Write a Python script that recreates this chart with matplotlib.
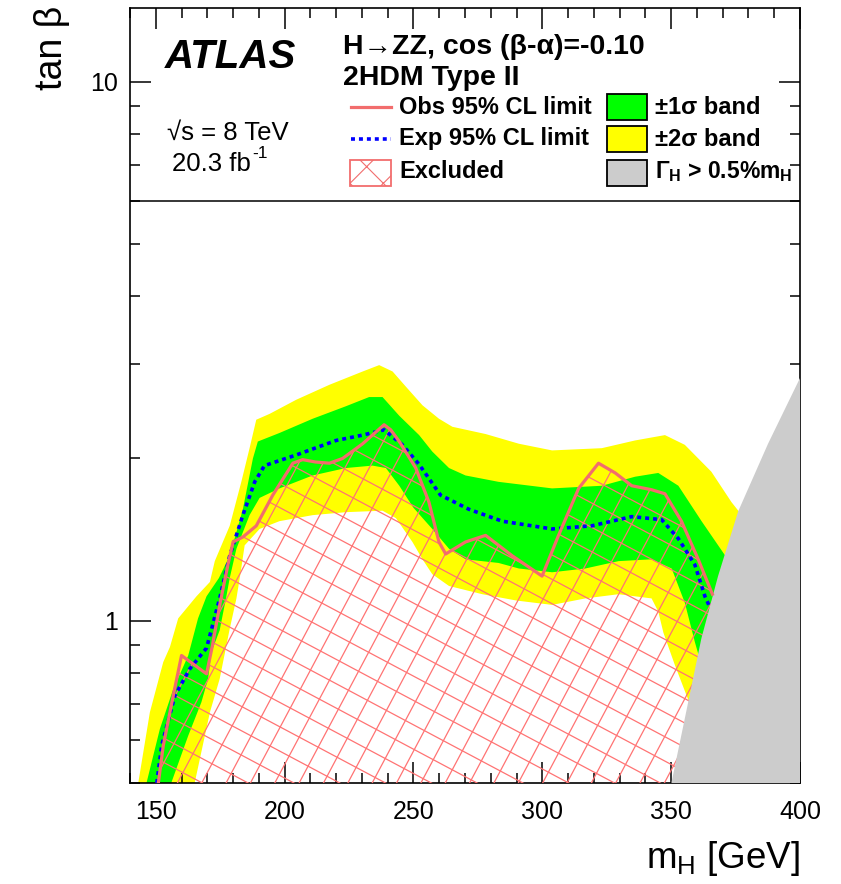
import numpy as np
import matplotlib
matplotlib.use('Agg')
import matplotlib.pyplot as plt
from matplotlib.patches import Polygon, Rectangle
from matplotlib.collections import LineCollection
from matplotlib.lines import Line2D

plt.rcParams['font.family'] = ['Liberation Sans', 'DejaVu Sans']
plt.rcParams['mathtext.fontset'] = 'custom'
plt.rcParams['mathtext.rm'] = 'Liberation Sans'
plt.rcParams['mathtext.it'] = 'Liberation Sans:italic'
plt.rcParams['mathtext.bf'] = 'Liberation Sans:bold'
plt.rcParams['hatch.linewidth'] = 0.8

# ---------------- data (m_H [GeV], tan beta) ----------------
# observed 95% CL limit
obs_m = [151.0, 152.9, 156.8, 160.0, 169.7, 172.0, 175.0, 178.0, 180.0, 183.8, 189.0,
         195.4, 203.2, 207.0, 212.0, 217.4, 222.5, 230.3, 238.6, 241.2, 244.5, 250.9,
         256.0, 259.9, 262.5, 270.2, 278.0, 288.3, 299.9, 306.3, 314.1, 321.8, 328.3,
         334.7, 342.4, 347.6, 354.0, 360.5, 366.0]
obs_t = [0.50, 0.586, 0.727, 0.862, 0.797, 0.90, 1.08, 1.27, 1.40, 1.43, 1.50,
         1.71, 1.96, 1.99, 1.97, 1.96, 2.00, 2.13, 2.31, 2.26, 2.15, 1.92,
         1.66, 1.40, 1.33, 1.40, 1.44, 1.32, 1.21, 1.44, 1.76, 1.96, 1.88,
         1.78, 1.75, 1.72, 1.53, 1.30, 1.12]

# expected 95% CL limit
exp_m = [150.4, 152.3, 157.4, 163.2, 169.7, 174.8, 178.7, 183.8, 188.4, 192.2, 204.5,
         220.0, 230.3, 238.6, 245.7, 252.2, 260.5, 271.5, 284.4, 303.8, 319.2, 334.7,
         346.3, 352.8, 359.2, 363.1, 365.0]
exp_t = [0.50, 0.587, 0.726, 0.814, 0.89, 1.10, 1.32, 1.57, 1.81, 1.94, 2.03,
         2.16, 2.21, 2.26, 2.12, 1.95, 1.71, 1.61, 1.53, 1.48, 1.50, 1.56,
         1.54, 1.42, 1.27, 1.11, 1.06]

# +2 sigma edge
p2_m = [143.2, 147.7, 152.9, 155.5, 158.7, 165.8, 171.0, 172.9, 178.7, 183.2, 186.4,
        189.0, 194.2, 204.5, 217.4, 230.3, 236.7, 241.9, 247.0, 253.5, 259.9, 265.1,
        278.0, 290.9, 303.8, 323.1, 336.0, 347.6, 355.3, 365.6, 373.4, 376.5, 400.0, 400.0]
p2_t = [0.50, 0.676, 0.838, 0.894, 1.01, 1.11, 1.18, 1.29, 1.50, 1.81, 2.09,
        2.36, 2.42, 2.57, 2.74, 2.90, 2.98, 2.90, 2.72, 2.51, 2.37, 2.29,
        2.22, 2.13, 2.07, 2.09, 2.16, 2.21, 2.12, 1.89, 1.66, 1.59, 1.59, 0.55]
# -2 sigma edge
m2_m = [165.1, 171.0, 174.8, 178.7, 181.3, 182.6, 184.5, 190.3, 198.0, 210.9, 223.8,
        238.0, 243.2, 249.6, 253.5, 257.3, 263.8, 276.7, 290.0, 303.8, 316.7, 329.6,
        342.4, 345.0, 347.0, 351.5, 356.5, 360.0]
m2_t = [0.50, 0.676, 0.78, 0.966, 1.10, 1.20, 1.38, 1.48, 1.53, 1.57, 1.59,
        1.60, 1.55, 1.40, 1.30, 1.22, 1.16, 1.12, 1.09, 1.07, 1.10, 1.12,
        1.10, 1.04, 0.95, 0.826, 0.716, 0.66]
# +1 sigma edge
p1_m = [146.4, 151.6, 156.8, 162.6, 166.4, 169.7, 174.5, 178.7, 183.8, 187.7, 189.6,
        198.0, 210.9, 223.8, 232.8, 238.0, 244.5, 252.2, 257.3, 263.8, 270.2, 283.0,
        303.8, 323.1, 336.0, 345.0, 352.8, 361.8, 371.0, 400.0, 400.0]
p1_t = [0.50, 0.63, 0.747, 0.862, 1.01, 1.11, 1.20, 1.32, 1.61, 2.00, 2.15,
        2.23, 2.37, 2.50, 2.60, 2.60, 2.40, 2.21, 2.06, 1.92, 1.86, 1.81,
        1.76, 1.78, 1.85, 1.88, 1.78, 1.53, 1.32, 1.32, 0.60]
# -1 sigma edge
m1_m = [156.0, 162.6, 167.7, 170.3, 171.6, 174.8, 177.4, 178.7, 181.3, 186.4, 190.3,
        198.0, 210.9, 223.8, 234.1, 239.3, 244.5, 250.0, 257.3, 263.8, 270.2, 283.0,
        290.9, 303.8, 316.7, 329.6, 342.4, 350.2, 355.3, 359.2, 362.0]
m1_t = [0.50, 0.612, 0.706, 0.78, 0.875, 0.96, 1.11, 1.20, 1.36, 1.57, 1.69,
        1.76, 1.86, 1.92, 1.94, 1.92, 1.78, 1.62, 1.48, 1.36, 1.30, 1.28,
        1.25, 1.23, 1.25, 1.29, 1.30, 1.25, 1.08, 0.913, 0.82]
# Gamma_H > 0.5% m_H boundary
gray_m = [350.1, 355.9, 361.7, 368.2, 376.0, 387.6, 400.0]
gray_t = [0.50, 0.68, 0.926, 1.21, 1.595, 2.13, 2.82]

x_ticks = [150, 200, 250, 300, 350, 400]
y_ticks = [1, 10]
y_ticklabels = ['1', '10']

# ---------------- figure ----------------
FW, FH = 841, 884
fig = plt.figure(figsize=(FW / 100, FH / 100), dpi=100)
L, B, R, T = 130 / FW, 1 - 783 / FH, 800 / FW, 1 - 8 / FH
ax = fig.add_axes([L, B, R - L, T - B])
ax.set_yscale('log')
ax.set_xlim(140, 400)
ax.set_ylim(0.5, 13.7)

RED = '#f26d6d'
HATCH = '#ff7373'
GREEN = '#00ff00'
YELLOW = '#ffff00'
GRAY = '#cccccc'

ax.fill(p2_m + m2_m[::-1], p2_t + m2_t[::-1], color=YELLOW, lw=0, zorder=1)
ax.fill(p1_m + m1_m[::-1], p1_t + m1_t[::-1], color=GREEN, lw=0, zorder=2)

# excluded region, cross-hatched
hx = obs_m + [400.0, 400.0]
hy = obs_t + [obs_t[-1], 0.5]
hpatch = Polygon(np.column_stack([hx, hy]), closed=True, facecolor='none',
                 edgecolor='none', transform=ax.transData)
ax.add_patch(hpatch)
W, H = (R - L) * FW, (T - B) * FH
diag = np.hypot(W, H)
segs = []
for ang in (np.deg2rad(62), np.deg2rad(-28)):
    d = np.array([np.cos(ang), np.sin(ang)])
    n = np.array([-np.sin(ang), np.cos(ang)])
    c = np.array([W / 2, H / 2])
    for s in np.arange(-diag, diag, 21.5):
        p0 = c + s * n - diag * d
        p1 = c + s * n + diag * d
        segs.append([(p0[0] / W, p0[1] / H), (p1[0] / W, p1[1] / H)])
lc = LineCollection(segs, colors=HATCH, linewidths=0.9, transform=ax.transAxes, zorder=3)
ax.add_collection(lc, autolim=False)
lc.set_clip_path(hpatch)

ax.fill(gray_m + [400.0], gray_t + [0.5], color=GRAY, lw=0, zorder=4)

ax.plot(exp_m, exp_t, color='#0000ff', lw=2.6, ls=(0, (1.1, 1.1)), zorder=5)
ax.plot(obs_m, obs_t, color=RED, lw=2.3, zorder=6, solid_joinstyle='round')

ax.axhline(6.0, color='black', lw=1.1, zorder=7)

# ticks
ax.set_xticks(x_ticks)
ax.set_xticks(np.arange(140, 401, 10), minor=True)
ax.set_yticks(y_ticks)
ax.set_yticklabels(y_ticklabels)
ax.set_yticks([0.5, 0.6, 0.7, 0.8, 0.9, 2, 3, 4, 5, 6, 7, 8, 9], minor=True)
ax.yaxis.set_minor_formatter(matplotlib.ticker.NullFormatter())
ax.tick_params(which='both', direction='in', top=True, right=True, labelsize=18, width=1.1)
ax.tick_params(which='major', length=15)
ax.tick_params(which='minor', length=7.5)
ax.tick_params(axis='x', pad=12)
ax.tick_params(axis='y', pad=9)
for sp in ax.spines.values():
    sp.set_linewidth(1.2)


def fx(x):
    return x / FW


def fy(y):
    return 1 - y / FH


fig.text(fx(800), fy(858), r'm$_{\rm H}$ [GeV]', fontsize=26.5, ha='right', va='center')
fig.text(fx(52), fy(6), 'tan β', fontsize=27, rotation=90, ha='center', va='top')

fig.text(fx(165), fy(57), 'ATLAS', fontsize=29, fontweight='bold', fontstyle='italic',
         ha='left', va='center')
fig.text(fx(167), fy(133), '√s = 8 TeV', fontsize=18.5, ha='left', va='center')
fig.text(fx(172), fy(164), '20.3 fb', fontsize=18.5, ha='left', va='center')
fig.text(fx(252), fy(154), '-1', fontsize=12.5, ha='left', va='center')

fig.text(fx(343), fy(47), 'H→ZZ, cos (β-α)=-0.10', fontsize=20.5, fontweight='bold',
         ha='left', va='center')
fig.text(fx(343), fy(78), '2HDM Type II', fontsize=20.5, fontweight='bold',
         ha='left', va='center')

fig.add_artist(Line2D([fx(351), fx(391)], [fy(107), fy(107)], color=RED, lw=2.3,
                      transform=fig.transFigure))
fig.add_artist(Line2D([fx(351), fx(391)], [fy(139), fy(139)], color='#0000ff', lw=2.6,
                      ls=(0, (1.1, 1.1)), transform=fig.transFigure))
fig.add_artist(Rectangle((fx(350), fy(186)), 41 / FW, 26 / FH, facecolor='white',
                         edgecolor=RED, hatch='x', lw=1.3, transform=fig.transFigure))
fig.text(fx(399), fy(107), 'Obs 95% CL limit', fontsize=17, fontweight='bold', ha='left', va='center')
fig.text(fx(399), fy(139), 'Exp 95% CL limit', fontsize=17, fontweight='bold', ha='left', va='center')
fig.text(fx(399), fy(172), 'Excluded', fontsize=17, fontweight='bold', ha='left', va='center')

for yc, col in ((107, GREEN), (139, YELLOW), (173, GRAY)):
    fig.add_artist(Rectangle((fx(607), fy(yc + 13)), 40 / FW, 26 / FH, facecolor=col,
                             edgecolor='black', lw=1.3, transform=fig.transFigure))
fig.text(fx(655), fy(107), '±1σ band', fontsize=17, fontweight='bold', ha='left', va='center')
fig.text(fx(655), fy(139), '±2σ band', fontsize=17, fontweight='bold', ha='left', va='center')
fig.text(fx(655), fy(172), r'Γ$_{\mathbf{H}}$ > 0.5%m$_{\mathbf{H}}$', fontsize=16.5,
         fontweight='bold', ha='left', va='center')

fig.savefig('out.png', dpi=100)
